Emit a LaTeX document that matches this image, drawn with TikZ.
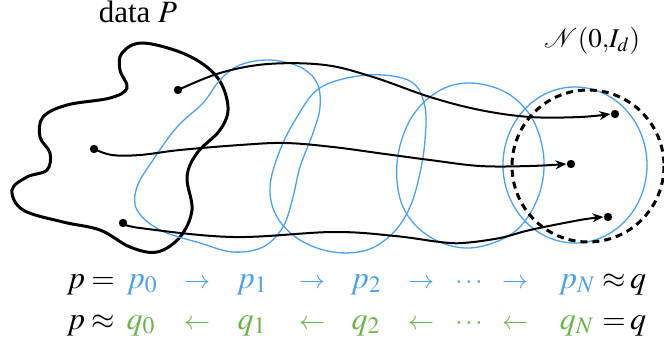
\documentclass[tikz,border=0pt]{standalone}
\usepackage{mathptmx}
\usepackage{fontspec}
\setmainfont{Liberation Serif}
\usetikzlibrary{arrows.meta}
\definecolor{fblue}{RGB}{77,160,235}
\definecolor{fgreen}{RGB}{106,180,72}
\tikzset{
  datablob/.style={line width=1.5pt, black},
  flowblob/.style={line width=0.65pt, fblue},
  gaussring/.style={line width=1.5pt, black, dash pattern=on 3.5pt off 2.5pt},
  dotnode/.style={circle, fill=black, inner sep=0pt, minimum size=4.2pt},
  traj/.style={line width=1pt, black, -{Stealth[length=5.5pt,width=4.5pt]}},
  lbl/.style={inner sep=0pt, font=\fontsize{15.5}{18}\selectfont},
  gl/.style={inner sep=0pt, font=\fontsize{13.5}{16}\selectfont},
  eq/.style={inner sep=0pt, anchor=base, font=\fontsize{16}{19}\selectfont},
  sym/.style={inner sep=0pt, anchor=base, font=\fontsize{15}{18}\selectfont},
  arr/.style={inner sep=0pt, anchor=base, font=\fontsize{13}{16}\selectfont},
}
\begin{document}
\begin{tikzpicture}[x=0.5pt,y=-0.5pt]
\useasboundingbox (0,0) rectangle (664,337);
% data blob
\draw[datablob] plot[smooth cycle, tension=0.6] coordinates {
 (143,43) (187,55) (217,77) (228,107) (220,130) (197,153) (187,177) (192,210)
 (180,237) (157,252) (130,247) (100,230) (63,222) (23,210) (12,190) (27,177)
 (47,170) (50,153) (40,137) (43,117) (67,105) (110,98) (127,88) (120,70) (122,53)};
% blue flow blobs
\draw[flowblob] plot[smooth cycle, tension=0.6] coordinates {
 (270,60) (300,67) (317,83) (320,107) (313,133) (300,167) (293,197) (283,227)
 (263,247) (233,252) (200,243) (160,230) (137,210) (137,187) (153,160) (177,127)
 (203,103) (220,80) (240,65)};
\draw[flowblob] plot[smooth cycle, tension=0.6] coordinates {
 (383,75) (413,83) (425,107) (425,140) (420,173) (410,207) (393,233) (367,250)
 (333,252) (300,240) (277,217) (270,187) (280,150) (297,117) (317,90) (347,78)};
\draw[flowblob] plot[smooth cycle, tension=0.6] coordinates {
 (470,83) (507,93) (533,120) (544,160) (537,200) (513,233) (470,248) (430,237)
 (403,207) (397,163) (410,120) (437,92)};
\draw[flowblob] (575,165) ellipse [x radius=72, y radius=78];
% gaussian ring
\draw[gaussring] (588,166) circle [radius=76];
% dots
\node[dotnode] (s1) at (178,90) {};
\node[dotnode] (s2) at (94,149) {};
\node[dotnode] (s3) at (123,223) {};
\node[dotnode] (e1) at (615,114) {};
\node[dotnode] (e2) at (571,164) {};
\node[dotnode] (e3) at (608,217) {};
% trajectories
\draw[traj] plot[smooth, tension=0.6] coordinates {
 (s1) (220,73) (268,64) (325,65) (373,77) (430,97) (480,110) (530,117) (580,117) (e1.west)};
\draw[traj] plot[smooth, tension=0.6] coordinates {
 (s2) (112,155) (140,155) (180,150) (240,145) (285,143) (333,147) (385,154) (430,160) (480,166) (530,166) (e2.west)};
\draw[traj] plot[smooth, tension=0.6] coordinates {
 (s3) (140,228) (233,237) (333,232) (395,236) (440,242) (463,243) (500,238) (530,230) (580,220) (e3.west)};
% labels
\node[lbl, anchor=base] (data) at (138,23) {data $P$};
\node[gl, anchor=base] (gauss) at (592,47) {$\mathcal{N}(0{,}I_d)$};
% forward row
\node[eq] (fp) at (76,288) {$p$};
\node[sym] (feq) at (103,288) {$=$};
\node[eq, text=fblue] (fp0) at (142,288) {$p_0$};
\node[arr, text=fblue] (fa1) at (197,288) {$\rightarrow$};
\node[eq, text=fblue] (fp1) at (252,288) {$p_1$};
\node[arr, text=fblue] (fa2) at (312,288) {$\rightarrow$};
\node[eq, text=fblue] (fp2) at (366,288) {$p_2$};
\node[arr, text=fblue] (fa3) at (421,288) {$\rightarrow$};
\node[arr, text=fblue] (fd) at (469,288) {$\cdots$};
\node[arr, text=fblue] (fa4) at (515,288) {$\rightarrow$};
\node[eq, text=fblue] (fpN) at (577,288) {$p_N$};
\node[sym] (fap) at (614,288) {$\approx$};
\node[eq] (fq) at (638,288) {$q$};
% backward row
\node[eq] (bp) at (76,329) {$p$};
\node[sym] (bap) at (103,329) {$\approx$};
\node[eq, text=fgreen] (bq0) at (141,329) {$q_0$};
\node[arr, text=fgreen] (ba1) at (197,329) {$\leftarrow$};
\node[eq, text=fgreen] (bq1) at (252,329) {$q_1$};
\node[arr, text=fgreen] (ba2) at (312,329) {$\leftarrow$};
\node[eq, text=fgreen] (bq2) at (366,329) {$q_2$};
\node[arr, text=fgreen] (ba3) at (421,329) {$\leftarrow$};
\node[arr, text=fgreen] (bd) at (469,329) {$\cdots$};
\node[arr, text=fgreen] (ba4) at (515,329) {$\leftarrow$};
\node[eq, text=fgreen] (bqN) at (577,329) {$q_N$};
\node[sym] (beq) at (614,329) {$=$};
\node[eq] (bq) at (638,329) {$q$};
\end{tikzpicture}
\end{document}
